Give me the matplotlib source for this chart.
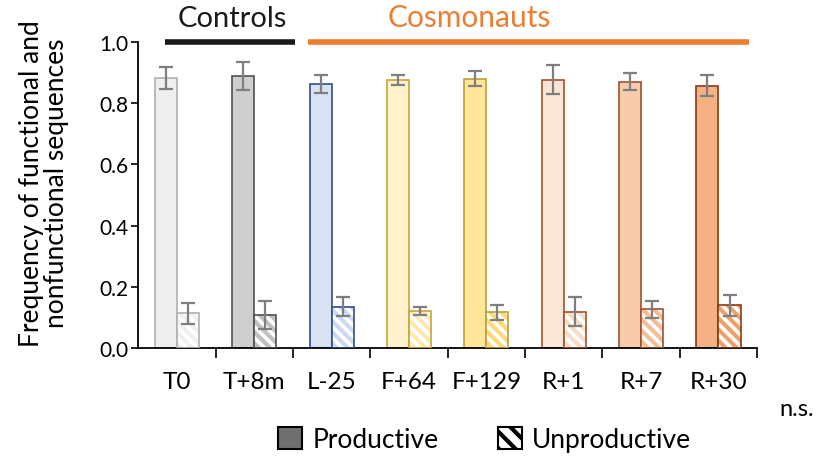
import matplotlib
matplotlib.use("Agg")
import matplotlib.pyplot as plt
from matplotlib.patches import Patch
import numpy as np

plt.rcParams['font.family'] = ['Lato', 'DejaVu Sans']
plt.rcParams['hatch.linewidth'] = 3.0

categories = ["T0", "T+8m", "L-25", "F+64", "F+129", "R+1", "R+7", "R+30"]
productive = [0.883, 0.890, 0.863, 0.876, 0.880, 0.877, 0.870, 0.857]
productive_err = [0.037, 0.045, 0.030, 0.015, 0.025, 0.047, 0.028, 0.034]
unproductive = [0.113, 0.108, 0.135, 0.121, 0.117, 0.119, 0.126, 0.139]
unproductive_err = [0.035, 0.045, 0.030, 0.014, 0.025, 0.047, 0.028, 0.034]

face_colors = ["#efefef", "#d0cfd0", "#d9e2f3", "#fff2cc", "#ffe699", "#fbe5d6", "#f8cbad", "#f4b183"]
edge_colors = ["#b0b0b0", "#505050", "#2f4f86", "#c9a43a", "#bf9f3a", "#a0522d", "#a0522d", "#8b3a12"]
hatch_colors = ["#f0f0f0", "#c0c0c0", "#ccd9ef", "#fde9b0", "#fbd97a", "#f8dcc8", "#f5bd96", "#f0a06a"]

x = np.arange(len(categories))
w = 0.285

fig = plt.figure(figsize=(8.23, 4.64), dpi=100)
ax = fig.add_axes([0.168, 0.248, 0.752, 0.659])

for i in range(len(categories)):
    ax.bar(x[i] - w / 2, productive[i], w, color=face_colors[i],
           edgecolor=edge_colors[i], linewidth=1.2, zorder=2)
    # hatch stripes in the bar colour, then the outline on top
    ax.bar(x[i] + w / 2, unproductive[i], w, color="white",
           edgecolor=hatch_colors[i], hatch="\\\\\\", linewidth=0, zorder=2)
    ax.bar(x[i] + w / 2, unproductive[i], w, fill=False,
           edgecolor=edge_colors[i], linewidth=1.2, zorder=3)

ax.errorbar(x - w / 2, productive, yerr=productive_err, fmt="none",
            ecolor="#7f7f7f", elinewidth=1.6, capsize=5, capthick=1.6, zorder=4)
ax.errorbar(x + w / 2, unproductive, yerr=unproductive_err, fmt="none",
            ecolor="#7f7f7f", elinewidth=1.6, capsize=5, capthick=1.6, zorder=4)

ax.set_xlim(-0.5, 7.5)
ax.set_ylim(0, 1.0)
ax.spines['top'].set_visible(False)
ax.spines['right'].set_visible(False)
ax.spines['left'].set_linewidth(1.3)
ax.spines['bottom'].set_linewidth(1.3)

ax.set_yticks([0, 0.2, 0.4, 0.6, 0.8, 1.0])
ax.set_yticklabels(["0.0", "0.2", "0.4", "0.6", "0.8", "1.0"], fontsize=15)
ax.tick_params(axis='y', direction='out', length=5, width=1.2, pad=2)

ax.set_xticks(x + 0.5)
ax.set_xticklabels([])
ax.tick_params(axis='x', direction='out', length=7, width=1.2)
for i, c in enumerate(categories):
    ax.text(x[i], -0.075, c, ha="center", va="top", fontsize=17.5)

fig.text(0.053, 0.605, "Frequency of functional and\nnonfunctional sequences",
         rotation=90, ha="center", va="center", fontsize=19, linespacing=1.0)

# group labels above the plot
ax.plot([-0.15, 1.52], [1.0, 1.0], color="#1a1a1a", lw=4, clip_on=False,
        solid_capstyle="butt")
ax.plot([1.7, 7.4], [1.0, 1.0], color="#ed7d31", lw=4, clip_on=False,
        solid_capstyle="butt")
ax.text(0.71, 1.035, "Controls", ha="center", va="bottom", fontsize=21, color="#1a1a1a")
ax.text(3.78, 1.035, "Cosmonauts", ha="center", va="bottom", fontsize=21.5, color="#ed7d31")

fig.text(0.968, 0.117, "n.s.", ha="center", va="center", fontsize=17)

handles = [Patch(facecolor="#707070", edgecolor="black", linewidth=1.5, label="Productive"),
           Patch(facecolor="white", edgecolor="black", hatch="\\\\", linewidth=1.5, label="Unproductive")]
fig.legend(handles=handles, loc="center", bbox_to_anchor=(0.589, 0.05), ncol=2,
           frameon=False, fontsize=19, handlelength=0.9, handleheight=0.9,
           columnspacing=2.25, handletextpad=0.4)

fig.savefig("out.png", dpi=100)
